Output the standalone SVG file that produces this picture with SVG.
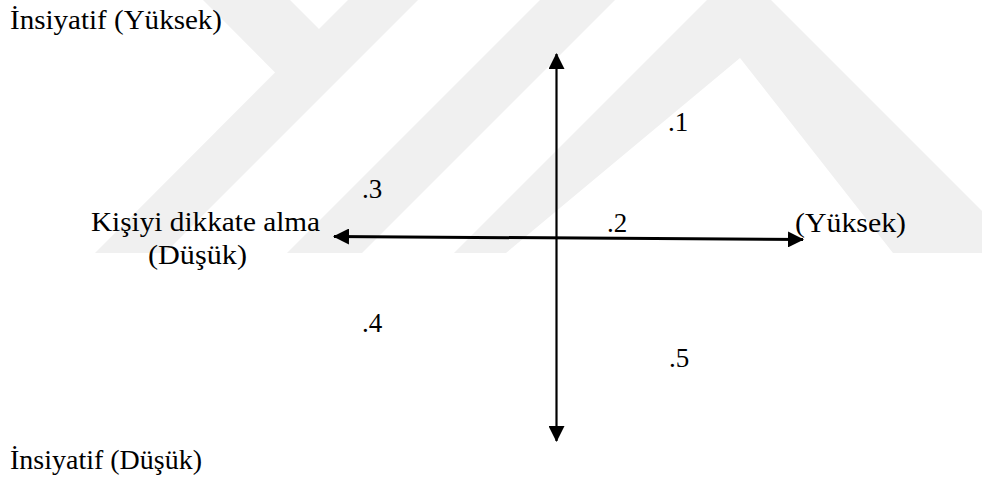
<svg xmlns="http://www.w3.org/2000/svg" width="982" height="479" viewBox="0 0 982 479">
<style>
text{font-family:"Times New Roman","Liberation Serif","DejaVu Serif",serif;font-size:27px;fill:#000}
.ax{stroke:#000;fill:none}
.wm{fill:#f0f0f0}
</style>
<defs>
<marker id="ah" markerUnits="userSpaceOnUse" markerWidth="16" markerHeight="16" refX="15" refY="8" orient="auto-start-reverse" viewBox="0 0 16 16">
<path d="M0,0 L16,8 L0,16 Z" fill="#000"/>
</marker>
</defs>
<rect width="982" height="479" fill="#fff"/>
<g id="watermark">
<polygon class="wm" points="203,0 290,0 319,29 348,0 418,0 165,253 95,253 275,72.5"/>
<polygon class="wm" points="540,0 615,0 362,253 287,253"/>
<polygon class="wm" points="707,0 771,0 982,211 982,253 893,253 740,58 506,253 454,253"/>
</g>
<g id="connectors">
<line class="ax" x1="556.5" y1="54" x2="556.5" y2="441" stroke-width="2.2" marker-start="url(#ah)" marker-end="url(#ah)"/>
<line class="ax" x1="334" y1="236.5" x2="803" y2="239.5" stroke-width="3" marker-start="url(#ah)" marker-end="url(#ah)"/>
</g>
<g id="label-top"><text x="10" y="29" textLength="212" lengthAdjust="spacingAndGlyphs">İnsiyatif (Yüksek)</text></g>
<g id="label-bottom"><text x="10" y="469" textLength="192" lengthAdjust="spacingAndGlyphs">İnsiyatif (Düşük)</text></g>
<g id="label-left"><text x="91" y="231" textLength="229" lengthAdjust="spacingAndGlyphs">Kişiyi dikkate alma</text><text x="148" y="264" textLength="99" lengthAdjust="spacingAndGlyphs">(Düşük)</text></g>
<g id="label-right"><text x="795" y="232" textLength="111" lengthAdjust="spacingAndGlyphs">(Yüksek)</text></g>
<g id="p1"><text x="668" y="131">.1</text></g>
<g id="p2"><text x="607" y="232">.2</text></g>
<g id="p3"><text x="362" y="198">.3</text></g>
<g id="p4"><text x="362" y="332">.4</text></g>
<g id="p5"><text x="669" y="367">.5</text></g>
</svg>
